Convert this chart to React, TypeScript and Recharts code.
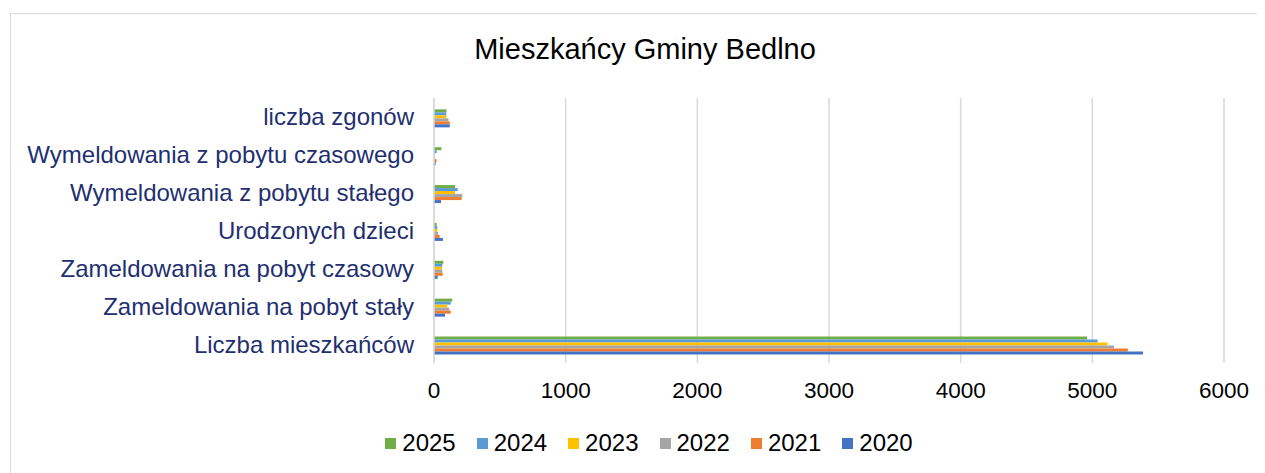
import React from 'react';
import { BarChart, Bar, XAxis, YAxis, CartesianGrid, Legend } from 'recharts';

const categories = [
  'liczba zgonów',
  'Wymeldowania z pobytu czasowego',
  'Wymeldowania z pobytu stałego',
  'Urodzonych dzieci',
  'Zameldowania na pobyt czasowy',
  'Zameldowania na pobyt stały',
  'Liczba mieszkańców',
];

const y2025 = [95, 56, 160, 20, 71, 139, 4960];
const y2024 = [93, 20, 180, 25, 63, 127, 5040];
const y2023 = [95, 5, 160, 25, 61, 101, 5115];
const y2022 = [110, 5, 215, 30, 63, 116, 5165];
const y2021 = [120, 20, 210, 43, 66, 127, 5270];
const y2020 = [120, 12, 53, 68, 28, 84, 5385];

const xTicks = [0, 1000, 2000, 3000, 4000, 5000, 6000];

const series = [
  { key: '2025', values: y2025, color: '#70AD47' },
  { key: '2024', values: y2024, color: '#5B9BD5' },
  { key: '2023', values: y2023, color: '#FFC000' },
  { key: '2022', values: y2022, color: '#A5A5A5' },
  { key: '2021', values: y2021, color: '#ED7D31' },
  { key: '2020', values: y2020, color: '#4472C4' },
];

const data = categories.map((name, i) => {
  const row: Record<string, string | number> = { name };
  series.forEach((s) => {
    row[s.key] = s.values[i];
  });
  return row;
});

const font = '"Liberation Sans", Arial, sans-serif';

// legend in the same order as the series, squares + labels
const LegendContent = () => (
  <div
    style={{
      display: 'flex',
      justifyContent: 'center',
      height: 26,
      alignItems: 'center',
      paddingLeft: 87,
    }}
  >
    {series.map((s) => (
      <div key={s.key} style={{ display: 'flex', alignItems: 'center', width: 91.4, flexShrink: 0 }}>
        <span
          style={{
            display: 'inline-block',
            flexShrink: 0,
            width: 11,
            height: 11,
            background: s.color,
            marginRight: 6,
          }}
        />
        <span style={{ fontSize: 24, color: '#000', fontFamily: font }}>{s.key}</span>
      </div>
    ))}
  </div>
);

const App: React.FC = () => {
  return (
    <div style={{ position: 'relative', width: 1257, height: 465, fontFamily: font }}>
      <div
        style={{
          position: 'absolute',
          left: 2,
          top: 5,
          width: 1275,
          height: 475,
          border: '1px solid #d9d9d9',
          boxSizing: 'border-box',
        }}
      />
      <div
        style={{
          position: 'absolute',
          left: 0,
          width: 1274,
          top: 25,
          textAlign: 'center',
          fontSize: 29,
          color: '#000',
        }}
      >
        Mieszkańcy Gminy Bedlno
      </div>
      <div style={{ position: 'absolute', left: 0, top: 0 }}>
        <BarChart
          width={1257}
          height={465}
          data={data}
          layout="vertical"
          margin={{ top: 90, right: 41, bottom: 17, left: 0 }}
          barCategoryGap="30%"
          barGap={0}
        >
          <CartesianGrid horizontal={false} stroke="#d9d9d9" strokeWidth={1.5} />
          <XAxis
            type="number"
            domain={[0, 6000]}
            ticks={xTicks}
            axisLine={false}
            tickLine={false}
            tickMargin={13}
            height={67}
            tick={{ fill: '#000', fontSize: 22.5, fontFamily: font }}
          />
          <YAxis
            type="category"
            dataKey="name"
            width={426}
            axisLine={{ stroke: '#d9d9d9', strokeWidth: 1.5 }}
            tickLine={false}
            tickMargin={14}
            interval={0}
            tick={{ fill: '#1F3070', fontSize: 24, fontFamily: font }}
          />
          <Legend verticalAlign="bottom" align="center" content={<LegendContent />} />
          {series.map((s) => (
            <Bar key={s.key} dataKey={s.key} name={s.key} fill={s.color} isAnimationActive={false} />
          ))}
        </BarChart>
      </div>
    </div>
  );
};

export default App;
